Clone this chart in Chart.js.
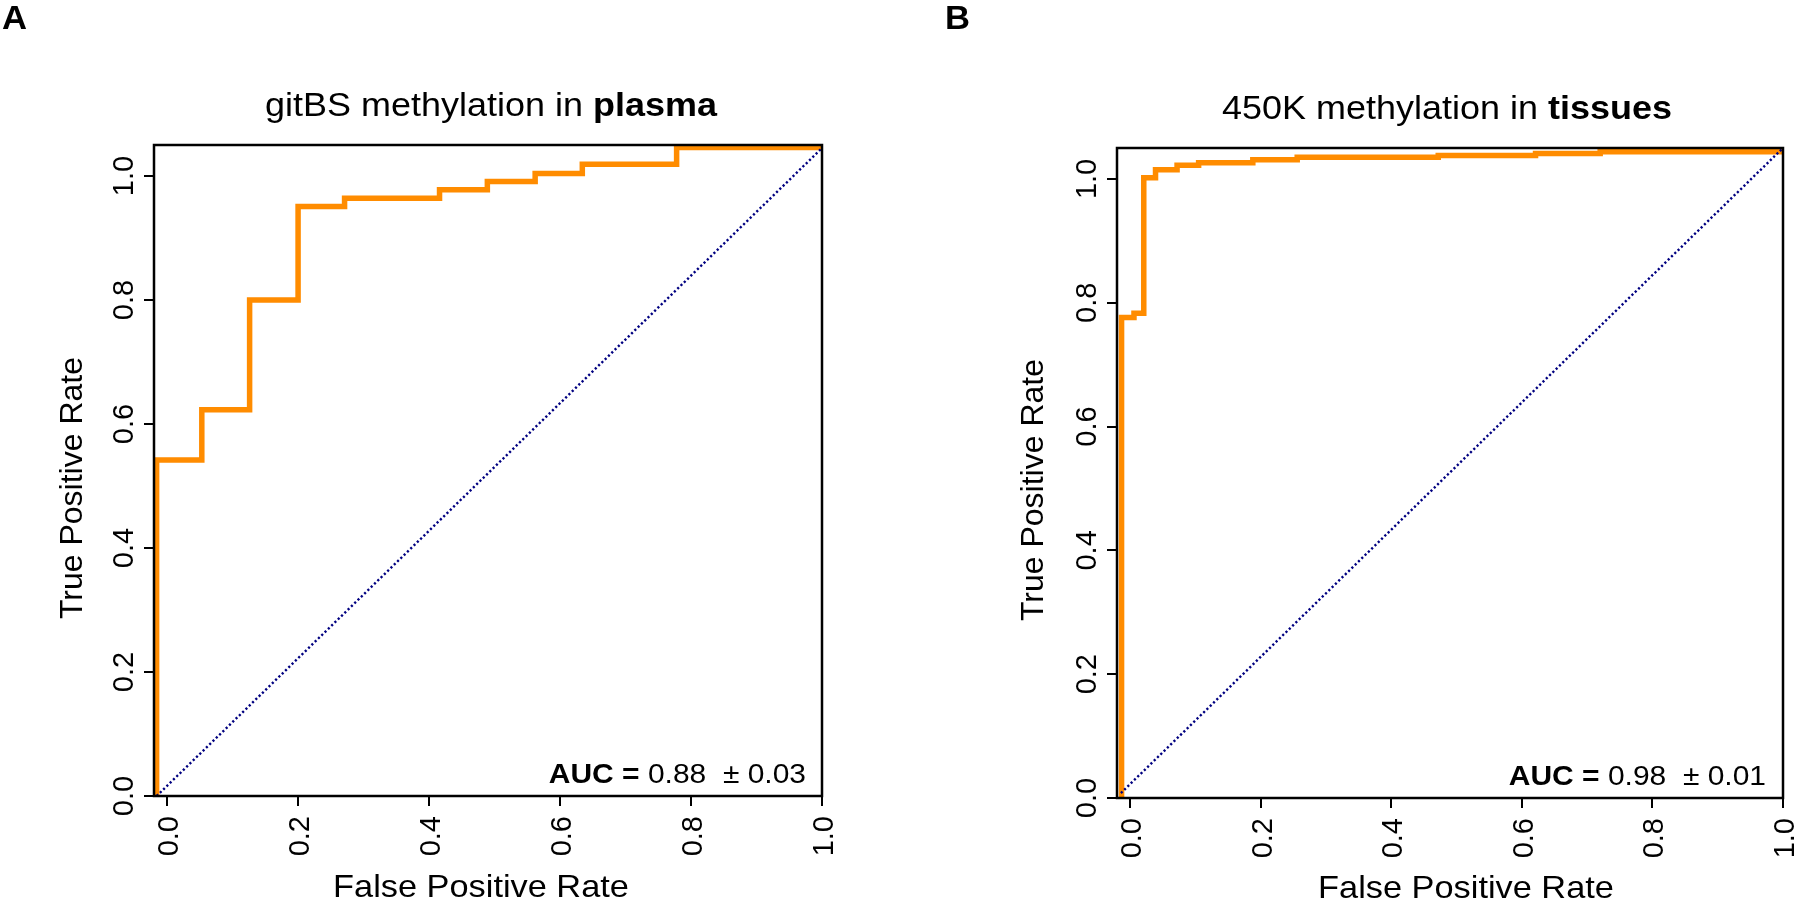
<!DOCTYPE html>
<html><head><meta charset="utf-8">
<script src="https://cdn.jsdelivr.net/npm/chart.js@4.4.1/dist/chart.umd.min.js"></script>
<style>
html,body{margin:0;padding:0;background:#fff;width:1800px;height:903px;overflow:hidden}
canvas{position:absolute;top:0}
#cA{left:0}
#cB{left:900px}
</style></head><body>
<canvas id="cA" width="900" height="903"></canvas>
<canvas id="cB" width="900" height="903"></canvas>
<script>
// ---- data ----
const xTicks = [0, 0.2, 0.4, 0.6, 0.8, 1.0];
const yTicks = [0, 0.2, 0.4, 0.6, 0.8, 1.0];
const tickLabels = ['0.0', '0.2', '0.4', '0.6', '0.8', '1.0'];

const fprA = [-0.016, -0.016, 0.053, 0.126, 0.200, 0.271, 0.416, 0.489, 0.562, 0.634, 0.778, 1.0];
const tprA = [0, 0.542, 0.623, 0.800, 0.951, 0.964, 0.978, 0.991, 1.004, 1.019, 1.046, 1.046];
const fprB = [-0.013, -0.013, 0.006, 0.021, 0.039, 0.072, 0.105, 0.188, 0.256, 0.472, 0.621, 0.720, 1.0];
const tprB = [0, 0.776, 0.783, 1.002, 1.015, 1.022, 1.026, 1.031, 1.035, 1.038, 1.041, 1.044, 1.044];

const diagXA = [-0.016, 1.0], diagYA = [0, 1.045];
const diagXB = [-0.014, 1.0], diagYB = [0.008, 1.05];

const titlePlain = ['gitBS methylation in ', '450K methylation in '];
const titleBold = ['plasma', 'tissues'];
const aucValue = ['0.88', '0.98'];
const aucError = ['0.03', '0.01'];
const panelLetter = ['A', 'B'];
const xTitle = 'False Positive Rate';
const yTitle = 'True Positive Rate';

// ---- drawing ----
const FONT = '"Liberation Sans", Arial, Helvetica, sans-serif';

function stretchedText(ctx, parts, x, y, align, sx) {
  let w = 0;
  parts.forEach(p => { ctx.font = p.f; p.w = ctx.measureText(p.t).width; w += p.w; });
  ctx.save();
  ctx.translate(x, y);
  ctx.scale(sx, 1);
  let cx = align === 'center' ? -w / 2 : (align === 'right' ? -w : 0);
  ctx.textAlign = 'left';
  ctx.textBaseline = 'alphabetic';
  parts.forEach(p => { ctx.font = p.f; ctx.fillText(p.t, cx, 0); cx += p.w; });
  ctx.restore();
}

function makePanel(id, k, fpr, tpr, dxs, dys, L) {
  const curve = fpr.map((x, i) => ({x: x, y: tpr[i]}));
  const diag = dxs.map((x, i) => ({x: x, y: dys[i]}));
  const textPlugin = {
    id: 'panelText' + k,
    afterDatasetsDraw(chart) {
      const ctx = chart.ctx, a = chart.chartArea;
      ctx.save();
      ctx.strokeStyle = '#000';
      ctx.lineWidth = 2.5;
      ctx.strokeRect(a.left, a.top, a.right - a.left, a.bottom - a.top);
      ctx.restore();
    },
    afterDraw(chart) {
      const ctx = chart.ctx;
      const xs = chart.scales.x, ys = chart.scales.y;
      ctx.save();
      ctx.fillStyle = '#000';
      ctx.font = '29px ' + FONT;
      yTicks.forEach((v, i) => {
        const py = ys.getPixelForValue(v);
        ctx.save();
        ctx.translate(L.left - 21, py);
        ctx.rotate(-Math.PI / 2);
        ctx.textAlign = 'center';
        ctx.textBaseline = 'alphabetic';
        ctx.fillText(tickLabels[i], 0, 0);
        ctx.restore();
      });
      xTicks.forEach((v, i) => {
        const px = xs.getPixelForValue(v);
        ctx.save();
        ctx.translate(px + 3, L.bottom + 20);
        ctx.rotate(-Math.PI / 2);
        ctx.textAlign = 'right';
        ctx.textBaseline = 'middle';
        ctx.fillText(tickLabels[i], 0, 0);
        ctx.restore();
      });
      // y title
      ctx.save();
      ctx.font = '32px ' + FONT;
      ctx.translate(L.yTitleX, L.yTitleY);
      ctx.rotate(-Math.PI / 2);
      ctx.textAlign = 'center';
      ctx.textBaseline = 'alphabetic';
      ctx.fillText(yTitle, 0, 0);
      ctx.restore();
      // x title
      stretchedText(ctx, [{t: xTitle, f: '31.5px ' + FONT}], L.xTitleX, L.xTitleY, 'center', 1.09);
      // main title
      stretchedText(ctx, [{t: titlePlain[k], f: '33px ' + FONT}, {t: titleBold[k], f: 'bold 33px ' + FONT}],
        L.titleX, L.titleY, 'center', 1.09);
      // AUC
      stretchedText(ctx, [{t: 'AUC =', f: 'bold 27.5px ' + FONT}, {t: ' ' + aucValue[k] + '  \u00b1 ' + aucError[k], f: '27.5px ' + FONT}],
        L.aucX, L.aucY, 'right', 1.09);
      // panel letter
      stretchedText(ctx, [{t: panelLetter[k], f: 'bold 33px ' + FONT}], L.letterX, 29, 'left', 1.05);
      ctx.restore();
    }
  };
  const axisCommon = {
    type: 'linear',
    ticks: {display: false},
    grid: {drawOnChartArea: false, drawTicks: true, tickLength: 10, color: '#000', lineWidth: 2},
    border: {display: false}
  };
  return new Chart(document.getElementById(id), {
    type: 'line',
    data: {datasets: [
      {data: diag, borderColor: '#000080', borderWidth: 2.4, borderDash: [2.2, 2.4], pointRadius: 0, fill: false, order: 0, tension: 0},
      {data: curve, borderColor: '#FF8C00', borderWidth: 5.5, stepped: 'before', pointRadius: 0, fill: false, order: 1,
       borderJoinStyle: 'miter', borderCapStyle: 'butt'}
    ]},
    options: {
      responsive: false, animation: false, devicePixelRatio: 1,
      layout: {padding: {left: L.left, top: L.top, right: 900 - L.right, bottom: 903 - L.bottom}},
      plugins: {legend: {display: false}, tooltip: {enabled: false}, title: {display: false}},
      scales: {
        x: Object.assign({}, axisCommon, {min: -0.02, max: 1.0,
          afterBuildTicks: s => { s.ticks = xTicks.map(v => ({value: v})); },
          afterFit: s => { s.height = 0; }}),
        y: Object.assign({}, axisCommon, {min: 0, max: 1.05,
          afterBuildTicks: s => { s.ticks = yTicks.map(v => ({value: v})); },
          afterFit: s => { s.width = 0; }})
      }
    },
    plugins: [textPlugin]
  });
}

makePanel('cA', 0, fprA, tprA, diagXA, diagYA, {
  left: 154, top: 145, right: 822, bottom: 796,
  yTitleX: 82, yTitleY: 488, xTitleX: 481, xTitleY: 897,
  titleX: 491, titleY: 116, aucX: 806, aucY: 783, letterX: 2
});
makePanel('cB', 1, fprB, tprB, diagXB, diagYB, {
  left: 217, top: 148, right: 883, bottom: 798,
  yTitleX: 143, yTitleY: 490, xTitleX: 566, xTitleY: 898,
  titleX: 547, titleY: 119, aucX: 866, aucY: 785, letterX: 45
});
</script>
</body></html>
